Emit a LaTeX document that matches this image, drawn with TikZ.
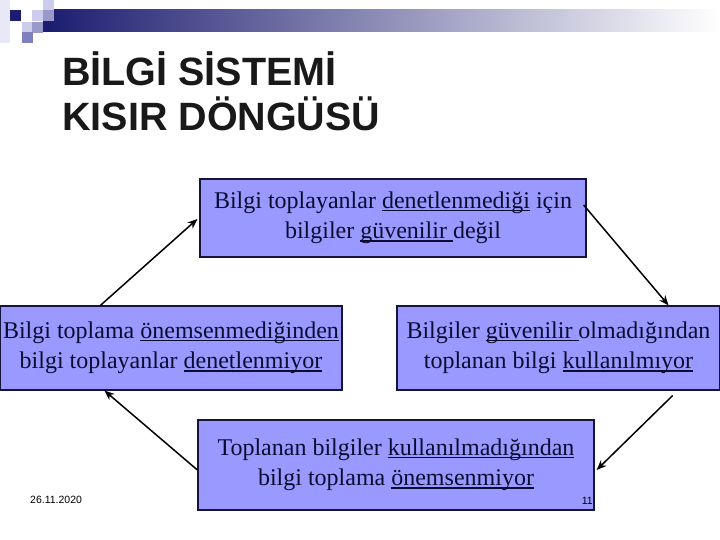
\documentclass[tikz,border=0pt]{standalone}
\usepackage{fontspec}
\setmainfont{Liberation Serif}
\newfontfamily\headfont{Liberation Sans}
\usetikzlibrary{positioning,arrows.meta}

\definecolor{boxfill}{RGB}{153,153,255}
\definecolor{boxline}{RGB}{20,20,60}
\definecolor{navy}{RGB}{28,28,112}
\definecolor{textnavy}{RGB}{12,12,50}
\definecolor{lightlav}{RGB}{204,204,236}
\definecolor{midlav}{RGB}{153,153,204}
\definecolor{deeplav}{RGB}{128,128,192}

\newcommand\ulword[1]{\setbox0\hbox{#1}\rlap{\rule[-2.6pt]{\wd0}{1.4pt}}\box0\relax}

\begin{document}
\begin{tikzpicture}[x=1pt, y=1pt,
    loopbox/.style={rectangle, draw=boxline, line width=1.2pt, fill=boxfill, text=textnavy,
        align=center, inner sep=0pt, font=\fontsize{24}{30.5}\selectfont},
    loopedge/.style={-{Stealth[length=10pt,width=8pt]}, line width=1.5pt, draw=black},
    titletext/.style={font=\headfont\bfseries\fontsize{39.5}{45}\selectfont, inner sep=0pt, anchor=base west, text=black!90},
    smalltext/.style={font=\headfont\fontsize{10.5}{12}\selectfont, inner sep=0pt}]
    \useasboundingbox (0,0) rectangle (720,540);

    % header bar and squares
    \fill[lightlav!45] (0,540) rectangle (10,497);
    \shade[left color=navy, right color=white] (43,508) rectangle (720,530);
    \foreach \x/\y/\c in {10/10/navy, 43/0/lightlav, 32/10/lightlav, 43/10/midlav,
                          22/22/lightlav, 32/22/midlav, 22/32/deeplav}
        \fill[\c] (\x,540-\y) rectangle ++(11,-11);

    % title
    \node [titletext] (title1) at (62,454) {BİLGİ SİSTEMİ};
    \node [titletext] (title2) at ([yshift=-45pt]title1.base west) {KISIR DÖNGÜSÜ};

    % the four boxes
    \node [loopbox, minimum width=386pt, minimum height=78pt] (trust) at (393,322)
        {Bilgi toplayanlar \ulword{denetlenmediği} için\\bilgiler \ulword{güvenilir\ }değil};
    \node [loopbox, minimum width=323pt, minimum height=84pt] (usage) at (558.5,192)
        {Bilgiler \ulword{güvenilir\ }olmadığından\\toplanan bilgi \ulword{kullanılmıyor}};
    \node [loopbox, minimum width=396pt, minimum height=90pt] (value) at (396,75)
        {Toplanan bilgiler \ulword{kullanılmadığından}\\bilgi toplama \ulword{önemsenmiyor}};
    \node [loopbox, minimum width=342pt, minimum height=84pt] (control) at (171,192)
        {Bilgi toplama \ulword{önemsenmediğinden}\\bilgi toplayanlar \ulword{denetlenmiyor}};

    \draw [loopedge] ([shift={(-3,13)}]trust.east) -- ([xshift=-52pt]usage.north east);
    \draw [loopedge] ([shift={(-48,-5)}]usage.south east) -- ([shift={(2,-5)}]value.east);
    \draw [loopedge] ([yshift=-5pt]value.west) -- ([xshift=105pt]control.south west);
    \draw [loopedge] ([xshift=101pt]control.north west) -- ([shift={(-2,-1)}]trust.west);

    % footer
    \node [smalltext, anchor=west] (date) at (30,40) {26.11.2020};
    \node [smalltext, anchor=east] (page) at (593,39) {11};
\end{tikzpicture}
\end{document}
